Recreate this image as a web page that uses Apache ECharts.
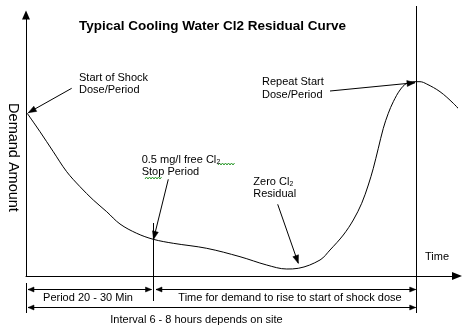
<!DOCTYPE html>
<html>
<head>
<meta charset="utf-8">
<script src="https://cdn.jsdelivr.net/npm/echarts@6/dist/echarts.min.js"></script>
<style>
html,body{margin:0;padding:0;background:#ffffff;}
#c{width:474px;height:334px;}
</style>
</head>
<body>
<div id="c"></div>
<script>
// ---------------- data ----------------
const titleText = 'Typical Cooling Water Cl2 Residual Curve';
const yAxisName = 'Demand Amount';
const xAxisName = 'Time';
const xAxisNamePos = [399, 18.7];
const yAxisNamePos = [-13, 118.5];

// residual / demand curve
const curveTime   = [1, 14, 27.3, 40.7, 54, 67.3, 80.7, 94, 110.7, 127.3, 147.3, 180.7, 214, 240.7, 260.7, 272.3, 294, 304, 317.3, 327.3, 335.7, 342.3, 347.3, 352.3, 357.3, 362.3, 367.3, 374, 380.7, 389, 394, 400.7, 414, 427.3, 437.3];
const curveDemand = [163, 144.3, 124.3, 104.3, 89.3, 76, 64.3, 52, 42.7, 36.7, 32.7, 27.7, 19.3, 11, 7, 7.7, 16, 26, 41, 56, 72.7, 91, 107.7, 127.7, 147.7, 162.7, 174.3, 186, 192.7, 194.3, 194.3, 192, 184.3, 172.7, 162];

// vertical marker lines (time, from demand, to demand)
const markerTime = [0.5, 127.5, 390.5];
const markerFrom = [-7, 53, 270];
const markerTo   = [-37, -25, -37];

// period dimension spans
const spanStart = [2, 130, 2];
const spanEnd   = [125.5, 389.7, 389.7];
const spanLevel = [-13.5, -13.5, -31.5];
const spanText  = ['Period 20 - 30 Min', 'Time for demand to rise to start of shock dose', 'Interval 6 - 8 hours depends on site'];
const spanTextX = [62, 264, 170.5];
const spanTextY = [-22.3, -22.3, -44];

// callouts
const calloutText  = ['Start of Shock\nDose/Period', 'Repeat Start\nDose/Period', '0.5 mg/l free Cl\u2082\nStop Period', 'Zero Cl\u2082\nResidual'];
const calloutTextX = [53, 236, 115.7, 227.3];
const calloutTextY = [192, 187.5, 110.3, 88.5];
const calloutFromX = [45.7, 304, 142.3, 251.7];
const calloutFromY = [187.7, 185, 96.7, 71.7];
const calloutToX   = [2.3, 389, 127.5, 272.3];
const calloutToY   = [163.3, 193.3, 36.7, 12.7];

// spell-check underlines
const squiggleStart = [192, 119];
const squiggleEnd   = [209, 136];
const squiggleLevel = [112, 98];

// ---------------- chart ----------------
const FONT = '"Liberation Sans", Arial, sans-serif';
const chart = echarts.init(document.getElementById('c'), null, {renderer: 'canvas'});

function head(tip, from, len, wid) {
  const dx = tip[0] - from[0], dy = tip[1] - from[1];
  const d = Math.hypot(dx, dy) || 1;
  const ux = dx / d, uy = dy / d;
  const bx = tip[0] - ux * len, by = tip[1] - uy * len;
  return {
    type: 'polygon',
    shape: {points: [[tip[0], tip[1]], [bx - uy * wid / 2, by + ux * wid / 2], [bx + uy * wid / 2, by - ux * wid / 2]]},
    style: {fill: '#000', stroke: '#000', lineWidth: 0.5}
  };
}

function segRender(opts) {
  return function (params, api) {
    const p1 = api.coord([api.value(0), api.value(1)]);
    const p2 = api.coord([api.value(2), api.value(3)]);
    const children = [{
      type: 'line',
      shape: {x1: p1[0], y1: p1[1], x2: p2[0], y2: p2[1]},
      style: {stroke: '#000', lineWidth: 1}
    }];
    if (opts.startHead) children.push(head(p1, p2, opts.len, opts.wid));
    if (opts.endHead) children.push(head(p2, p1, opts.len, opts.wid));
    return {type: 'group', children: children};
  };
}

const labelItems = [];
calloutText.forEach((t, i) => labelItems.push({value: [calloutTextX[i], calloutTextY[i]], text: t, align: 'left', rot: 0, size: 11, lh: i === 1 ? 13 : 12}));
spanText.forEach((t, i) => labelItems.push({value: [spanTextX[i], spanTextY[i]], text: t, align: 'center', rot: 0, size: 11, lh: 12}));
labelItems.push({value: xAxisNamePos, text: xAxisName, align: 'left', rot: 0, size: 11, lh: 12});
labelItems.push({value: yAxisNamePos, text: yAxisName, align: 'center', rot: -Math.PI / 2, size: 14.5, lh: 16});

const option = {
  animation: false,
  backgroundColor: '#ffffff',
  title: {
    text: titleText,
    left: 79, top: 19, padding: 0,
    textStyle: {fontFamily: FONT, fontWeight: 'bold', fontSize: 13.5, color: '#000'}
  },
  grid: {left: 26, right: 17, top: 15, bottom: 58, containLabel: false, outerBoundsMode: 'none'},
  xAxis: {
    type: 'value', min: 0, max: 431,
    axisLine: {show: true, onZero: false, symbol: ['none', 'triangle'], symbolSize: [8, 10], lineStyle: {color: '#000', width: 1}},
    axisTick: {show: false}, axisLabel: {show: false}, splitLine: {show: false}
  },
  yAxis: {
    type: 'value', min: 0, max: 261,
    axisLine: {show: true, onZero: false, symbol: ['none', 'triangle'], symbolSize: [8, 9], lineStyle: {color: '#000', width: 1}},
    axisTick: {show: false}, axisLabel: {show: false}, splitLine: {show: false}
  },
  series: [
    {
      name: 'curve', type: 'line', clip: false, smooth: 0.35, showSymbol: false, symbol: 'none',
      lineStyle: {color: '#000', width: 1}, silent: true,
      data: curveTime.map((t, i) => [t, curveDemand[i]])
    },
    {
      name: 'markers', type: 'custom', clip: false, silent: true,
      dimensions: ['x1', 'y1', 'x2', 'y2'], encode: {x: [0, 2], y: [1, 3]},
      renderItem: segRender({startHead: false, endHead: false}),
      data: markerTime.map((t, i) => [t, markerFrom[i], t, markerTo[i]])
    },
    {
      name: 'spans', type: 'custom', clip: false, silent: true,
      dimensions: ['x1', 'y1', 'x2', 'y2'], encode: {x: [0, 2], y: [1, 3]},
      renderItem: segRender({startHead: true, endHead: true, len: 6, wid: 5}),
      data: spanStart.map((s, i) => [s, spanLevel[i], spanEnd[i], spanLevel[i]])
    },
    {
      name: 'callouts', type: 'custom', clip: false, silent: true,
      dimensions: ['x1', 'y1', 'x2', 'y2'], encode: {x: [0, 2], y: [1, 3]},
      renderItem: segRender({startHead: false, endHead: true, len: 8, wid: 6}),
      data: calloutFromX.map((x, i) => [x, calloutFromY[i], calloutToX[i], calloutToY[i]])
    },
    {
      name: 'squiggles', type: 'custom', clip: false, silent: true,
      dimensions: ['x1', 'y1', 'x2', 'y2'], encode: {x: [0, 2], y: [1, 3]},
      renderItem: function (params, api) {
        const p1 = api.coord([api.value(0), api.value(1)]);
        const p2 = api.coord([api.value(2), api.value(3)]);
        const pts = [];
        let k = 0;
        for (let x = p1[0]; x <= p2[0]; x += 1.5, k++) pts.push([x, p1[1] + (k % 2 ? -1 : 1)]);
        return {type: 'polyline', shape: {points: pts}, style: {stroke: '#2e9a2e', lineWidth: 1, fill: null}};
      },
      data: squiggleStart.map((s, i) => [s, squiggleLevel[i], squiggleEnd[i], squiggleLevel[i]])
    },
    {
      name: 'labels', type: 'custom', clip: false, silent: true,
      dimensions: ['x', 'y'], encode: {x: 0, y: 1},
      renderItem: function (params, api) {
        const it = labelItems[params.dataIndex];
        const p = api.coord([api.value(0), api.value(1)]);
        return {
          type: 'text', x: p[0], y: p[1], rotation: it.rot,
          style: {
            text: it.text, fill: '#000', fontFamily: FONT, fontSize: it.size,
            align: it.align, verticalAlign: 'middle', lineHeight: it.lh
          }
        };
      },
      data: labelItems.map(it => it.value)
    }
  ]
};
chart.setOption(option);
</script>
</body>
</html>
